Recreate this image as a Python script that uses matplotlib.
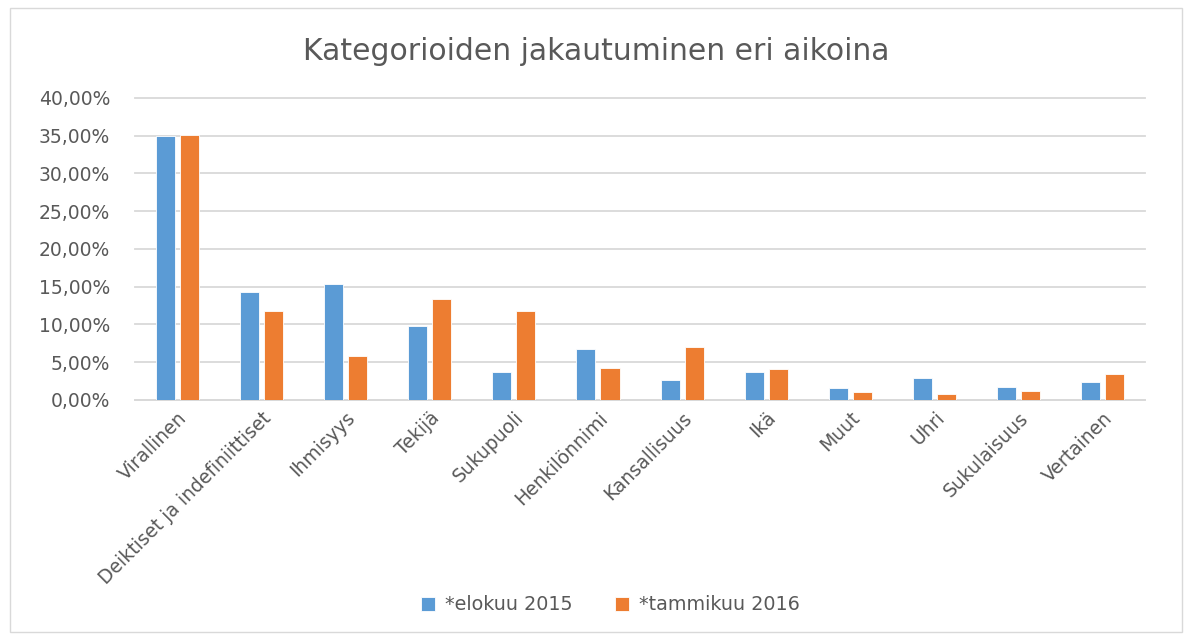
import numpy as np
import matplotlib.pyplot as plt
from matplotlib.patches import Rectangle
from matplotlib.ticker import FuncFormatter

categories = ["Virallinen", "Deiktiset ja indefiniittiset", "Ihmisyys", "Tekijä",
              "Sukupuoli", "Henkilönnimi", "Kansallisuus", "Ikä", "Muut", "Uhri",
              "Sukulaisuus", "Vertainen"]
elokuu_2015 = [34.9, 14.3, 15.4, 9.8, 3.7, 6.7, 2.65, 3.76, 1.55, 2.96, 1.68, 2.43]
tammikuu_2016 = [35.05, 11.77, 5.88, 13.32, 11.77, 4.2, 6.95, 4.16, 1.1, 0.84, 1.24, 3.5]

blue = "#5B9BD5"
orange = "#ED7D31"
textc = "#595959"

fig = plt.figure(figsize=(11.92, 6.42), dpi=100)
ax = fig.add_axes([0.1133, 0.377, 0.8473, 0.4704])

x = np.arange(len(categories))
w = 0.226
ax.bar(x - 0.143, elokuu_2015, w, color=blue, edgecolor="white", linewidth=0.6,
       label="*elokuu 2015", zorder=3)
ax.bar(x + 0.143, tammikuu_2016, w, color=orange, edgecolor="white", linewidth=0.6,
       label="*tammikuu 2016", zorder=3)

ax.set_xlim(-0.5, len(categories) - 0.5)
ax.set_ylim(0, 40)
ax.set_yticks(np.arange(0, 41, 5))
ax.yaxis.set_major_formatter(FuncFormatter(lambda v, p: f"{v:.2f}%".replace(".", ",")))
ax.grid(axis="y", color="#D9D9D9", linewidth=1.3, zorder=0)
for gl in ax.get_ygridlines():
    gl.set_clip_on(False)
for s in ["top", "right", "left"]:
    ax.spines[s].set_visible(False)
ax.spines["bottom"].set_color("#D9D9D9")
ax.spines["bottom"].set_linewidth(1.3)
ax.tick_params(axis="both", length=0, labelsize=13.5, colors=textc)
ax.tick_params(axis="y", pad=18)
ax.tick_params(axis="x", pad=6)
ax.set_xticks(x)
ax.set_xticklabels(categories, rotation=45, ha="right", rotation_mode="anchor")

fig.text(0.5, 0.92, "Kategorioiden jakautuminen eri aikoina", ha="center", va="center",
         fontsize=21.5, color=textc)

ax.legend(loc="center", bbox_to_anchor=(0.512, 1 - 605 / 642), bbox_transform=fig.transFigure,
          ncol=2, frameon=False, fontsize=13.8, labelcolor=textc, handlelength=0.75,
          handleheight=0.75, columnspacing=2.2, handletextpad=0.5)

fig.patches.append(Rectangle((0.008, 0.015), 0.984, 0.972, transform=fig.transFigure,
                             fill=False, edgecolor="#D9D9D9", linewidth=1))

fig.savefig("out.png", dpi=100)
